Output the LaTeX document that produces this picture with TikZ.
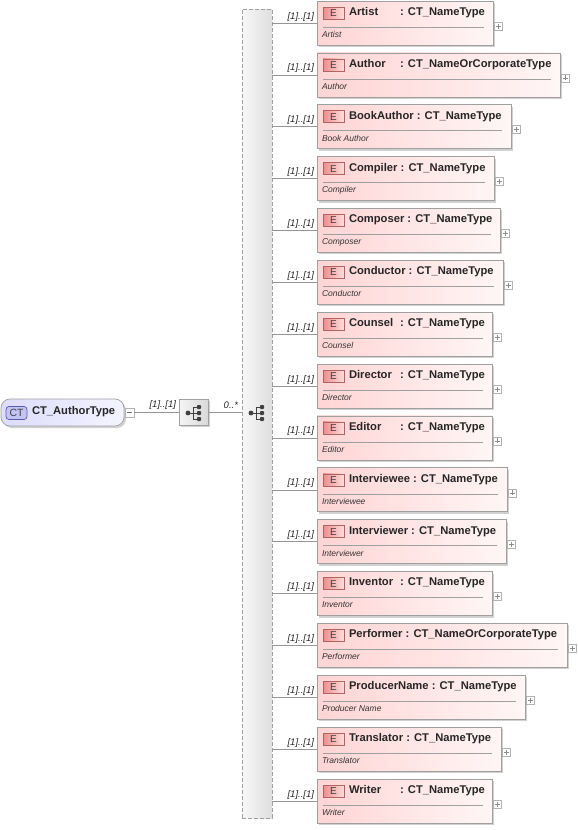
\documentclass[tikz,border=0pt]{standalone}
\usepackage{fontspec}
\setmainfont{Liberation Sans}
\usetikzlibrary{shadows}
\definecolor{pinkL}{RGB}{255,212,212}
\definecolor{pinkR}{RGB}{255,246,246}
\definecolor{boxborder}{RGB}{160,160,160}
\definecolor{badgeL}{RGB}{238,140,140}
\definecolor{badgeR}{RGB}{255,222,222}
\definecolor{badgeborder}{RGB}{176,100,100}
\definecolor{ctL}{RGB}{220,220,252}
\definecolor{ctR}{RGB}{244,244,255}
\definecolor{ctbadge}{RGB}{196,196,244}
\definecolor{ctbadgeborder}{RGB}{90,90,170}
\definecolor{linecol}{RGB}{150,150,150}
\newcommand\elname[1]{\setbox0\hbox{#1}\ifdim\wd0<48pt \hbox to 48pt{#1\hfil}\else\box0\fi}
\begin{document}
\begin{tikzpicture}[x=1pt,y=-1pt,
  every node/.style={inner sep=0pt, outer sep=0pt},
  shad/.style={drop shadow={shadow xshift=2pt, shadow yshift=-2pt, fill=black, opacity=0.18}},
  ebox/.style={draw=boxborder, line width=0.7pt, left color=pinkL, right color=pinkR, shad},
  ebadge/.style={draw=badgeborder, line width=0.6pt, left color=badgeL, right color=badgeR,
     minimum width=21, minimum height=12, font=\fontsize{10}{11}\selectfont, text=black!75},
  namefont/.style={font=\fontsize{11.2}{13}\selectfont\bfseries, text=black!85},
  descfont/.style={font=\fontsize{8.5}{10}\selectfont\itshape, text=black!80},
  multfont/.style={font=\fontsize{9.5}{10}\selectfont\itshape, text=black!85, inner sep=1pt},
  sepline/.style={draw=boxborder, line width=0.6pt},
  conn/.style={draw=linecol, line width=0.6pt},
  plusbox/.style={draw=boxborder!80, fill=white, line width=0.5pt, minimum width=8, minimum height=8},
  barbox/.style={draw=boxborder, dashed, dash pattern=on 4pt off 2pt, line width=0.7pt,
     left color=black!3, right color=black!13},
  compbox/.style={draw=boxborder, line width=0.7pt, left color=black!4, right color=black!15, shad},
  ctnode/.style={draw=boxborder, line width=0.7pt, rounded corners=9pt, left color=ctL, right color=ctR, shad},
  ctbadgest/.style={draw=ctbadgeborder, line width=0.7pt, fill=ctbadge, rounded corners=3pt,
     minimum width=21, minimum height=13, font=\fontsize{10.5}{12}\selectfont, text=black!75},
  seqicon/.pic={
    \fill[black!75] (-6,0) circle (2.4);
    \draw[black!75, line width=0.8pt] (-6,0) -- (-1,0) (-1,-6) -- (-1,6)
       (-1,-6) -- (5,-6) (-1,6) -- (5,6) (-1,0) -- (5,0);
    \foreach \yy in {-6,0,6} \fill[black!75, rounded corners=0.8pt] (3,\yy-2) rectangle (7,\yy+2);
  }
]
\useasboundingbox (0,0) rectangle (578,830);

% sequence bar
\node[barbox, minimum width=30, minimum height=809, anchor=north west] (bar) at (242,9) {};
\pic at (257,413) {seqicon};

% root node
\node[ctnode, minimum width=123, minimum height=27, anchor=west] (root) at (1,412.5) {};
\node[ctbadgest, anchor=west] (ctb) at (6,413) {CT};
\node[namefont, anchor=west] (rootname) at (32,412) {CT\_AuthorType};
\node[plusbox, minimum width=9, minimum height=9, anchor=west] (minus) at (125,412.5) {};
\draw[black!55, line width=0.6pt] (minus.center) ++(-2.5,0) -- ++(5,0);

% compositor
\node[compbox, minimum width=29, minimum height=26, anchor=center] (comp) at (193.5,412) {};
\pic at (194,413) {seqicon};

\draw[conn] (minus.east) -- (minus.east -| comp.west);
\node[multfont, anchor=south east] (m0) at (177,410) {[1]..[1]};
\draw[conn] (comp.east) -- (comp.east -| bar.west);
\node[multfont, anchor=south east] (m00) at (239,410) {0..*};

% elements
\foreach \n/\t/\d/\r [count=\i from 0] in {
  Artist/CT\_NameType/Artist/493,
  Author/CT\_NameOrCorporateType/Author/560,
  BookAuthor/CT\_NameType/Book Author/511,
  Compiler/CT\_NameType/Compiler/494,
  Composer/CT\_NameType/Composer/500,
  Conductor/CT\_NameType/Conductor/503,
  Counsel/CT\_NameType/Counsel/492,
  Director/CT\_NameType/Director/492,
  Editor/CT\_NameType/Editor/492,
  Interviewee/CT\_NameType/Interviewee/507,
  Interviewer/CT\_NameType/Interviewer/506,
  Inventor/CT\_NameType/Inventor/492,
  Performer/CT\_NameOrCorporateType/Performer/567,
  ProducerName/CT\_NameType/Producer Name/525,
  Translator/CT\_NameType/Translator/501,
  Writer/CT\_NameType/Writer/492}
{
  \pgfmathsetmacro\c{23+\i*51.87}
  \pgfmathsetmacro\w{\r-317}
  \node[ebox, minimum width=\w, minimum height=44, anchor=west] (e\i) at (317,\c) {};
  \node[ebadge, anchor=west] (b\i) at (323,\c-10) {E};
  \node[namefont, anchor=west] (n\i) at (349,\c-10.5) {\elname{\n}\ : \t};
  \draw[sepline] (323,\c+4) -- (\r-9,\c+4);
  \node[descfont, anchor=west] (d\i) at (322,\c+11.5) {\d};
  \node[plusbox, anchor=west] (p\i) at (\r+1.5,\c+3) {};
  \draw[black!45, line width=0.5pt] (p\i.center) ++(-2.5,0) -- ++(5,0) (p\i.center) ++(0,-2.5) -- ++(0,5);
  \draw[conn] (bar.east |- e\i.west) -- (e\i.west);
  \node[multfont, anchor=south east] (m\i) at (315,\c-1) {[1]..[1]};
}
\end{tikzpicture}
\end{document}
